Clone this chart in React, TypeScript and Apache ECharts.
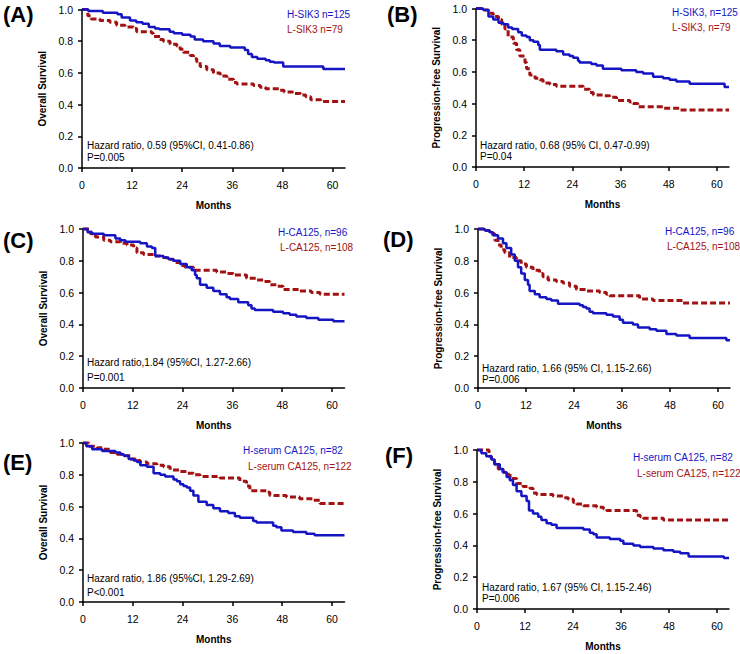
import React, { useEffect, useRef } from "react";
import * as echarts from "echarts";

const MONTH_TICKS = [0, 12, 24, 36, 48, 60];
const X_MAX = 63;

const A_H = [[0,1],[1.5,0.99],[5,0.98],[8.5,0.97],[9.5,0.95],[11.5,0.93],[13,0.92],[14.5,0.91],[16,0.89],[17.5,0.88],[18.5,0.875],[21,0.86],[22,0.85],[24,0.84],[26,0.83],[27,0.81],[29,0.8],[31.5,0.785],[33,0.77],[35.5,0.76],[39,0.745],[39.8,0.72],[40.7,0.7],[42,0.69],[44,0.68],[45,0.67],[46,0.665],[48.2,0.64],[57.8,0.625],[63,0.625]];
const A_L = [[0,1],[1.4,0.96],[2.2,0.94],[4.3,0.93],[6.7,0.92],[8.3,0.9],[10.3,0.89],[12.3,0.88],[13.1,0.86],[16.7,0.85],[17.1,0.83],[18.7,0.81],[19.5,0.8],[21.1,0.78],[22.7,0.77],[23.5,0.75],[24.3,0.73],[25.9,0.71],[26.7,0.69],[27.5,0.67],[28.3,0.64],[29.9,0.62],[31.5,0.6],[33.1,0.58],[34.7,0.56],[36.3,0.54],[37.1,0.53],[41.1,0.52],[42.7,0.51],[44,0.5],[47.2,0.49],[48.4,0.48],[50.8,0.47],[52.4,0.46],[53.6,0.45],[54.8,0.43],[57.2,0.42],[63,0.42]];
const B_H = [[0,1],[1.8,0.99],[3.1,0.95],[4.3,0.93],[5.6,0.91],[6.8,0.9],[8,0.88],[9,0.87],[10.5,0.85],[11.4,0.83],[12.6,0.82],[13.4,0.8],[14.3,0.79],[15.5,0.77],[15.9,0.74],[20,0.73],[21.7,0.71],[23.3,0.7],[24.2,0.69],[25.4,0.67],[25.8,0.66],[28.7,0.65],[30,0.64],[31.6,0.62],[36.2,0.61],[39.9,0.6],[41.6,0.59],[44.1,0.57],[46.6,0.56],[48.2,0.55],[49.9,0.54],[53.2,0.525],[61.9,0.505],[63,0.505]];
const B_L = [[0,1],[2.2,0.99],[3.1,0.97],[4.3,0.95],[5.6,0.93],[6.4,0.9],[7.2,0.87],[8,0.82],[9.3,0.78],[10.1,0.74],[10.9,0.7],[12.2,0.66],[12.6,0.62],[13.4,0.58],[14.7,0.56],[15.9,0.55],[16.7,0.53],[18.4,0.52],[20,0.51],[26.7,0.49],[28.3,0.47],[29.2,0.455],[31.6,0.45],[33.3,0.44],[35,0.42],[38.3,0.41],[39.1,0.4],[40.3,0.38],[46.6,0.37],[50.7,0.36],[63,0.36]];
const C_H = [[0,1],[1.1,0.98],[2.2,0.97],[5,0.96],[7.8,0.94],[9,0.93],[10.2,0.92],[13.8,0.91],[15.4,0.89],[16.6,0.88],[17.4,0.83],[19.4,0.82],[20.6,0.81],[21.8,0.8],[23.4,0.78],[25,0.76],[26.2,0.74],[27,0.71],[27.4,0.69],[28.2,0.65],[29.8,0.63],[31.4,0.61],[33,0.59],[34.6,0.57],[35.4,0.56],[37.4,0.54],[39.8,0.52],[40.6,0.5],[41.4,0.49],[45.8,0.48],[48.2,0.47],[49.8,0.46],[51.4,0.45],[53.8,0.44],[56.7,0.43],[60.3,0.42],[63,0.42]];
const C_L = [[0,1],[1.8,0.97],[3,0.95],[5,0.93],[6.6,0.92],[9,0.91],[10.6,0.9],[12.2,0.88],[13,0.85],[14.6,0.84],[17,0.83],[18.6,0.82],[20.2,0.81],[21.8,0.79],[23.4,0.77],[24.6,0.76],[26.6,0.74],[32.2,0.73],[34.6,0.72],[36.2,0.71],[39.4,0.69],[41.8,0.68],[43.4,0.67],[45,0.65],[46.6,0.64],[48.2,0.62],[52.2,0.61],[55,0.6],[57.1,0.59],[63,0.59]];
const D_H = [[0,1],[1.7,0.99],[2.9,0.98],[3.75,0.96],[5,0.94],[6.25,0.91],[7.1,0.88],[8.3,0.84],[9.2,0.8],[10,0.76],[10.8,0.72],[11.7,0.68],[12.5,0.65],[12.9,0.61],[14.2,0.59],[15.4,0.57],[17.1,0.56],[18.3,0.55],[20,0.53],[25.4,0.52],[26.25,0.51],[27.1,0.5],[27.9,0.48],[28.75,0.47],[32.1,0.46],[33.75,0.45],[35.4,0.43],[36.25,0.41],[38.75,0.4],[40,0.38],[42.9,0.37],[44.6,0.36],[47.1,0.34],[49.6,0.33],[52.9,0.315],[62.1,0.3],[63,0.3]];
const D_L = [[0,1],[1.7,0.99],[2.9,0.97],[4.2,0.93],[5,0.9],[5.8,0.87],[6.7,0.85],[7.9,0.82],[9.6,0.8],[10.8,0.78],[12.1,0.76],[13.75,0.74],[15.4,0.72],[16.25,0.7],[17.5,0.68],[19.6,0.67],[21.25,0.66],[22.9,0.64],[24.6,0.62],[27.1,0.61],[30.4,0.6],[32.1,0.59],[32.9,0.58],[40.4,0.56],[43.75,0.55],[51.25,0.535],[63,0.535]];
const E_H = [[0,1],[0.8,0.98],[2.2,0.96],[4.6,0.95],[7.8,0.94],[9,0.93],[9.8,0.92],[11,0.9],[12.2,0.89],[13,0.88],[13.8,0.86],[15.4,0.85],[17,0.81],[18.6,0.8],[19.8,0.79],[21.8,0.77],[22.6,0.76],[23.4,0.74],[24.2,0.73],[25,0.72],[25.8,0.7],[26.6,0.67],[27.8,0.63],[29.8,0.61],[31.4,0.59],[33,0.57],[35,0.56],[36.6,0.54],[37.8,0.53],[41,0.51],[41.8,0.5],[45.8,0.48],[46.6,0.47],[47.8,0.45],[50.6,0.44],[53.8,0.43],[55.8,0.42],[63,0.42]];
const E_L = [[0,1],[1.4,0.98],[3.4,0.97],[5,0.96],[6.6,0.94],[8.2,0.93],[9.8,0.92],[11.4,0.9],[12.6,0.89],[13.8,0.88],[15.4,0.87],[17.8,0.86],[19.4,0.85],[21,0.83],[23.4,0.82],[25,0.81],[26.6,0.8],[28.2,0.79],[33,0.78],[37.8,0.76],[39.4,0.73],[40.2,0.7],[44.2,0.69],[45,0.67],[49,0.66],[52.2,0.65],[55.4,0.64],[57.1,0.62],[63,0.62]];
const F_H = [[0,1],[1.1,0.98],[2.3,0.96],[3.6,0.94],[4.4,0.91],[5.7,0.88],[6.5,0.86],[7.4,0.83],[8.2,0.81],[9,0.78],[9.9,0.74],[11.1,0.71],[12.4,0.68],[13,0.62],[14,0.6],[15.3,0.58],[16.1,0.56],[17.4,0.54],[18.6,0.53],[19.9,0.51],[26.6,0.5],[28.2,0.48],[29.1,0.47],[29.9,0.45],[33.2,0.44],[35.8,0.43],[36.6,0.41],[39.1,0.4],[40.8,0.39],[44.1,0.38],[46.6,0.37],[49.1,0.36],[50.8,0.35],[52.9,0.33],[61.7,0.32],[63,0.32]];
const F_L = [[0,1],[3,0.96],[3.6,0.93],[4.4,0.91],[5.3,0.88],[6.5,0.86],[7.8,0.84],[9,0.82],[9.9,0.79],[11.5,0.77],[13.2,0.76],[14,0.73],[14.9,0.72],[19,0.71],[21.6,0.7],[22.8,0.69],[24.1,0.67],[24.9,0.66],[26.6,0.65],[29.9,0.64],[31.6,0.63],[32.4,0.62],[39.9,0.59],[40.8,0.58],[41.6,0.57],[46.6,0.56],[63,0.56]];

const PANEL_LABELS = ["(A)", "(B)", "(C)", "(D)", "(E)", "(F)"];
const Y_TITLES = ["Overall Survival", "Progression-free Survival", "Overall Survival", "Progression-free Survival", "Overall Survival", "Progression-free Survival"];
const H_NAMES = ["H-SIK3 n=125", "H-SIK3, n=125", "H-CA125, n=96", "H-CA125, n=96", "H-serum CA125, n=82", "H-serum CA125, n=82"];
const L_NAMES = ["L-SIK3 n=79", "L-SIK3, n=79", "L-CA125, n=108", "L-CA125, n=108", "L-serum CA125, n=122", "L-serum CA125, n=122"];
const HR_TEXTS = [
  "Hazard ratio, 0.59 (95%CI, 0.41-0.86)",
  "Hazard ratio, 0.68 (95% CI, 0.47-0.99)",
  "Hazard ratio,1.84 (95%CI, 1.27-2.66)",
  "Hazard ratio, 1.66 (95% CI, 1.15-2.66)",
  "Hazard ratio, 1.86 (95%CI, 1.29-2.69)",
  "Hazard ratio, 1.67 (95% CI, 1.15-2.46)",
];
const P_TEXTS = ["P=0.005", "P=0.04", "P=0.001", "P=0.006", "P<0.001", "P=0.006"];
const H_DATA = [A_H, B_H, C_H, D_H, E_H, F_H];
const L_DATA = [A_L, B_L, C_L, D_L, E_L, F_L];

// layout (pixels)
const GRIDS = [
  { left: 82, top: 9.5, width: 263, height: 158.5 },
  { left: 476, top: 8.5, width: 253, height: 158.5 },
  { left: 83, top: 229, width: 261.5, height: 159 },
  { left: 478, top: 229, width: 252, height: 159 },
  { left: 83, top: 443, width: 261.5, height: 159 },
  { left: 477, top: 450, width: 252, height: 159 },
];
const LABEL_POS = [[3, 14], [387, 14], [3, 240], [383, 239], [3, 462], [385, 455]];
const LEG_POS = [[287, 14, 29], [672, 12, 27], [278, 232, 247], [665, 231, 246], [243, 450, 466], [633, 457, 473]];
const LEG_L_X = [287, 672, 280, 667, 248, 637];
const HR_POS = [[87, 145, 157], [480, 145, 156], [87, 362, 377], [482, 368, 379], [87, 578, 592], [482, 587, 598]];

const FONT = "'Liberation Sans', Arial, Helvetica, sans-serif";
const BLUE = "#1515c4";
const RED = "#a31212";

export default function App() {
  const ref = useRef<HTMLDivElement>(null);
  useEffect(() => {
    if (!ref.current) return;
    const chart = echarts.init(ref.current, undefined, { renderer: "svg" });
    const grid: any[] = [];
    const xAxis: any[] = [];
    const yAxis: any[] = [];
    const series: any[] = [];
    const graphic: any[] = [];
    const axisLine = { show: true, lineStyle: { color: "#000", width: 1.5 } };
    const axisTick = { show: true, inside: false, length: 4, lineStyle: { color: "#000", width: 1.5 } };
    GRIDS.forEach((g, i) => {
      grid.push({ ...g, containLabel: false });
      xAxis.push({
        type: "value", gridIndex: i, min: 0, max: X_MAX, interval: 12,
        axisLine, splitLine: { show: false },
        axisTick: { ...axisTick, customValues: MONTH_TICKS },
        axisLabel: { customValues: MONTH_TICKS, color: "#000", fontSize: 10.5, fontFamily: FONT, margin: 11 },
        name: "Months", nameLocation: "middle", nameGap: 32,
        nameTextStyle: { color: "#000", fontSize: 10, fontWeight: "bold", fontFamily: FONT },
      });
      yAxis.push({
        type: "value", gridIndex: i, min: 0, max: 1, interval: 0.2,
        axisLine, axisTick, splitLine: { show: false },
        axisLabel: { color: "#000", fontSize: 10.5, fontFamily: FONT, margin: 9, formatter: (v: number) => v.toFixed(1) },
        name: Y_TITLES[i], nameLocation: "middle", nameGap: 35,
        nameTextStyle: { color: "#000", fontSize: 10, fontWeight: "bold", fontFamily: FONT },
      });
      series.push({
        type: "line", xAxisIndex: i, yAxisIndex: i, data: H_DATA[i], step: "end",
        symbol: "none", clip: false, lineStyle: { color: BLUE, width: 2.5 }, z: 3,
      });
      series.push({
        type: "line", xAxisIndex: i, yAxisIndex: i, data: L_DATA[i], step: "end",
        symbol: "none", clip: false, lineStyle: { color: RED, width: 3, type: [6, 3] }, z: 2,
      });
      const txt = (x: number, y: number, text: string, fill: string, font: string) => ({
        type: "text", x, y,
        style: { text, fill, font, textAlign: "left", textVerticalAlign: "middle", align: "left", verticalAlign: "middle" },
      });
      graphic.push(txt(LABEL_POS[i][0], LABEL_POS[i][1], PANEL_LABELS[i], "#000", `bold 22px ${FONT}`));
      graphic.push(txt(LEG_POS[i][0], LEG_POS[i][1], H_NAMES[i], BLUE, `10px ${FONT}`));
      graphic.push(txt(LEG_L_X[i], LEG_POS[i][2], L_NAMES[i], RED, `10px ${FONT}`));
      graphic.push(txt(HR_POS[i][0], HR_POS[i][1], HR_TEXTS[i], "#000", `10px ${FONT}`));
      graphic.push(txt(HR_POS[i][0], HR_POS[i][2], P_TEXTS[i], "#000", `10px ${FONT}`));
    });
    chart.setOption({ animation: false, backgroundColor: "#fff", grid, xAxis, yAxis, series, graphic });
    return () => chart.dispose();
  }, []);
  return <div ref={ref} style={{ position: "absolute", left: 0, top: 0, width: 740, height: 654 }} />;
}
